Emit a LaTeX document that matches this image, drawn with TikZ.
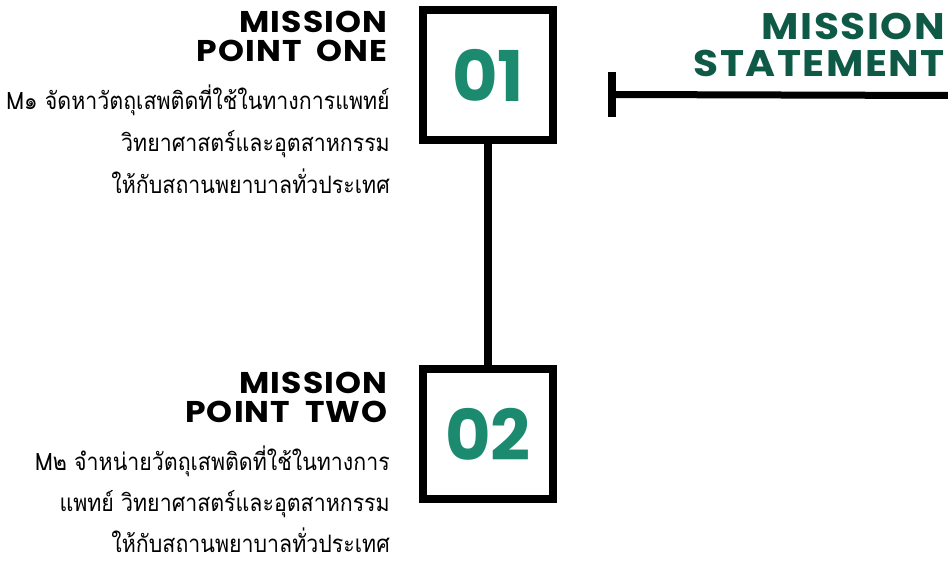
\documentclass[tikz,border=0pt]{standalone}
\usepackage{fontspec}
\newfontfamily\headfont[FakeStretch=1.1,LetterSpace=4,WordSpace=1.8]{Poppins}
\newfontfamily\numfont{Poppins}
\newfontfamily\thaifont[Script=Thai,FakeStretch=0.89]{Loma}
\definecolor{numgreen}{HTML}{1B8A6F}
\definecolor{darkgreen}{HTML}{0F5A47}

\begin{document}
\begin{tikzpicture}[x=1pt,y=-1pt,
  head/.style={anchor=base east,inner sep=0pt,font=\headfont\bfseries\fontsize{30}{30}\selectfont},
  thai/.style={anchor=base east,inner sep=0pt,font=\thaifont\fontsize{24}{24}\selectfont},
  title/.style={anchor=base east,inner sep=0pt,text=darkgreen,font=\headfont\bfseries\fontsize{37}{37}\selectfont},
  numbox/.style={shape=rectangle,draw=black,line width=8pt,minimum size=130pt,text=numgreen,font=\numfont\bfseries\fontsize{70}{70}\selectfont},
  tick/.style={shape=rectangle,fill=black,inner sep=0pt,minimum width=8pt,minimum height=45pt}]
\useasboundingbox (0,0) rectangle (948,561);

\node[numbox] (0) at (488,75) {01};
\node[numbox] (1) at (488,434) {02};

\node[head] (2) at (388,33) {MISSION};
\node[head] (3) at (388,62) {POINT ONE};
\node[thai] (4) at (390,110) {M๑ จัดหาวัตถุเสพติดที่ใช้ในทางการแพทย์};
\node[thai] (5) at (390,152) {วิทยาศาสตร์และอุตสาหกรรม};
\node[thai] (6) at (390,194) {ให้กับสถานพยาบาลทั่วประเทศ};

\node[head] (7) at (388,393) {MISSION};
\node[head] (8) at (388,422) {POINT TWO};
\node[thai] (9) at (390,470) {M๒ จำหน่ายวัตถุเสพติดที่ใช้ในทางการ};
\node[thai] (10) at (390,511) {แพทย์ วิทยาศาสตร์และอุตสาหกรรม};
\node[thai] (11) at (390,552) {ให้กับสถานพยาบาลทั่วประเทศ};

\node[title] (12) at (945,40) {MISSION};
\node[title] (13) at (945,77) {STATEMENT};
\node[tick] (14) at (612,94.5) {};
\coordinate (15) at (948,95.5);

\path [-,draw=black,line width=8pt] (0) edge (1);
\path [-,draw=black,line width=7pt] (14.center) edge (15);
\end{tikzpicture}
\end{document}
